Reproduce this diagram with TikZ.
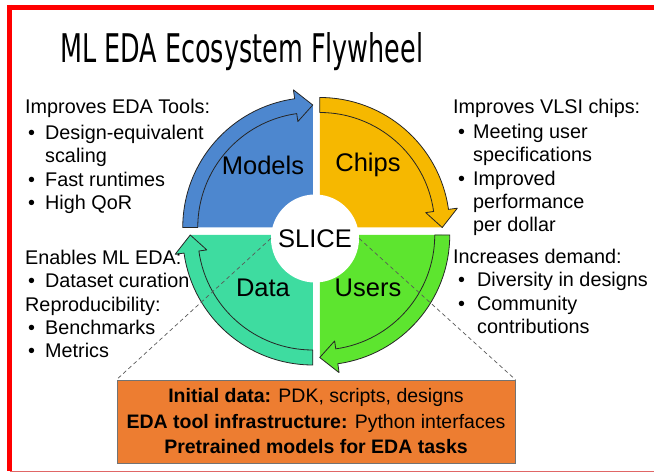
\documentclass[tikz,border=0pt]{standalone}
\usepackage{fontspec}
\setmainfont{Liberation Sans}
\newfontfamily\titlefont{DejaVu Sans}
\usepackage{graphicx}
\definecolor{mblue}{HTML}{4D87CF}
\definecolor{cyellow}{HTML}{F6B800}
\definecolor{ugreen}{HTML}{5DE52F}
\definecolor{dteal}{HTML}{3EDCA0}
\definecolor{boxorange}{HTML}{ED7D31}
\definecolor{framered}{HTML}{FF0000}
\definecolor{framelight}{HTML}{E06666}
\newcommand\lbul{\makebox[20pt][l]{\hspace{3pt}\textbullet}}
\newcommand\lind{\hspace*{20pt}}
\newcommand\rbul{\makebox[20pt][l]{\hspace{5pt}\textbullet}}
\newcommand\rind{\hspace*{20pt}}
\newcommand\rbulb{\makebox[24pt][l]{\hspace{5pt}\textbullet}}
\newcommand\rindb{\hspace*{24pt}}
\begin{document}
\begin{tikzpicture}[x=1pt,y=1pt,
  band/.style={draw=black!85, line width=0.8pt, line join=round},
  qlabel/.style={font=\fontsize{25.5}{30}\selectfont, inner sep=0},
  side/.style={font=\fontsize{19.8}{23.3}\selectfont, align=left, inner sep=0, anchor=north west},
  dashline/.style={draw=black!65, line width=0.7pt, dash pattern=on 4pt off 3pt},
  frame/.style={draw=framered}]
\useasboundingbox (0,0) rectangle (654,473);
% quadrant corners
\coordinate (M) at (312.75,245.5);
\coordinate (C) at (319.75,245.5);
\coordinate (U) at (319.75,238);
\coordinate (D) at (312.75,238);
% quadrant bodies
\fill[mblue,   shift={(M)}] (0,0) -- (180:122) arc[start angle=180,end angle=90,radius=122] -- cycle;
\fill[cyellow, shift={(C)}] (0,0) -- (90:122) arc[start angle=90,end angle=0,radius=122] -- cycle;
\fill[ugreen,  shift={(U)}] (0,0) -- (0:122) arc[start angle=360,end angle=270,radius=122] -- cycle;
\fill[dteal,   shift={(D)}] (0,0) -- (270:122) arc[start angle=270,end angle=180,radius=122] -- cycle;
% arrow bands
\filldraw[band, fill=mblue, shift={(M)}] (180:130) arc[start angle=180,end angle=98,radius=130]
  -- (98:139) -- (90:122.5) -- (98:107) -- (98:115) arc[start angle=98,end angle=180,radius=115] -- cycle;
\filldraw[band, fill=cyellow, shift={(C)}] (90:130) arc[start angle=90,end angle=8,radius=130]
  -- (8:139) -- (0:122.5) -- (8:107) -- (8:115) arc[start angle=8,end angle=90,radius=115] -- cycle;
\filldraw[band, fill=ugreen, shift={(U)}] (0:130) arc[start angle=360,end angle=278,radius=130]
  -- (278:139) -- (270:122.5) -- (278:107) -- (278:115) arc[start angle=278,end angle=360,radius=115] -- cycle;
\filldraw[band, fill=dteal, shift={(D)}] (270:130) arc[start angle=270,end angle=188,radius=130]
  -- (188:139) -- (180:122.5) -- (188:107) -- (188:115) arc[start angle=188,end angle=270,radius=115] -- cycle;
% quadrant labels
\node[qlabel] (models) at (263,308) {Models};
\node[qlabel] (chips) at (368,308) {Chips};
\node[qlabel] (data) at (263,185) {Data};
\node[qlabel] (users) at (368,185) {Users};
% centre
\node[circle, fill=white, minimum size=88pt, inner sep=0, font=\fontsize{25.5}{30}\selectfont] (slice) at (315,234.5) {SLICE};
% bottom box
\node[fill=boxorange, draw=black!55, line width=0.8pt, minimum width=398pt, minimum height=83pt, inner sep=0,
  align=center, font=\fontsize{19.5}{25.5}\selectfont] (box) at (316,51.5)
  {\textbf{Initial data:} PDK, scripts, designs\\
   \textbf{EDA tool infrastructure:} Python interfaces\\
   \textbf{Pretrained models for EDA tasks}};
\draw[dashline] (slice.west) -- (box.north west);
\draw[dashline] (slice.east) -- (box.north east);
% title
\node[anchor=base west, inner sep=0] (title) at (60,410) {\resizebox{363pt}{30pt}{\titlefont ML EDA Ecosystem Flywheel}};
% side texts
\node[side] (tools) at (25,374) {Improves EDA Tools:\\[2.7pt]
  \lbul Design-equivalent\\ \lind scaling\\ \lbul Fast runtimes\\ \lbul High QoR};
\node[side] (enables) at (25,223) {Enables ML EDA:\\
  \lbul Dataset curation\\ Reproducibility:\\ \lbul Benchmarks\\ \lbul Metrics};
\node[side] (vlsi) at (453,374) {Improves VLSI chips:\\[1.7pt]
  \rbul Meeting user\\ \rind specifications\\ \rbul Improved\\ \rind performance\\ \rind per dollar};
\node[side] (demand) at (453,224) {Increases demand:\\
  \rbulb Diversity in designs\\ \rbulb Community\\ \rindb contributions};
% frame
\draw[frame, line width=5pt] (7,465.5) -- (654,465.5);
\draw[frame, line width=4.5pt] (9.5,468) -- (9.5,1.5);
\draw[draw=framelight, line width=1.5pt] (9.5,1.5) -- (654,1.5);
\end{tikzpicture}
\end{document}
